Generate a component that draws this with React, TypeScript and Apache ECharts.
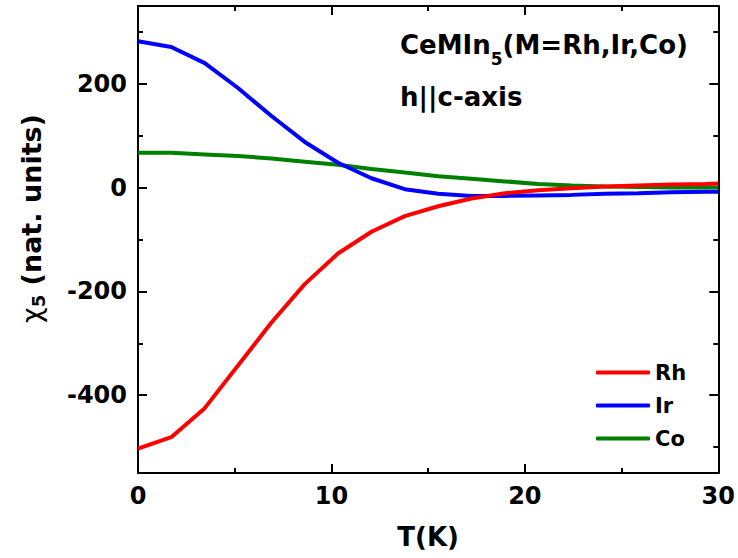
import React, { useEffect, useRef } from "react";
import * as echarts from "echarts";

// temperature grid (K)
const temps = [0, 1.72, 3.45, 5.17, 6.9, 8.62, 10.34, 12.07, 13.79, 15.52, 17.24, 18.97, 20.69, 22.41, 24.14, 25.86, 27.59, 29.31, 30];
// chi_5 for each compound
const rhValues = [-503, -481, -425, -343, -260, -186, -127, -85, -55, -36, -21, -11, -5, -1, 2, 4, 6, 7, 8];
const irValues = [282, 271, 240, 192, 138, 88, 48, 18, -3, -12, -16, -16, -15, -14, -12, -11, -9, -8, -8];
const coValues = [67, 67, 64, 61, 56, 50, 44, 36, 29, 22, 17, 12, 7, 4, 2, 1, 0, 0, 0];

const seriesNames = ["Rh", "Ir", "Co"];
const seriesColors = ["#ff0000", "#0000ff", "#008000"];

const yMajor = [-400, -200, 0, 200];
const yMinor = [-500, -300, -100, 100, 300];

const FONT = "DejaVu Sans";

export default function App() {
  const ref = useRef<HTMLDivElement>(null);

  useEffect(() => {
    if (!ref.current) return;
    const chart = echarts.init(ref.current, undefined, { renderer: "svg" });
    const pair = (vals: number[]) => temps.map((t, i) => [t, vals[i]]);
    const line = { color: "#000", width: 2 };
    const labelStyle = { fontFamily: FONT, fontWeight: "bold" as const, fontSize: 24, color: "#000" };

    const yBase = (position: "left" | "right", major: boolean, withLabels: boolean, extra: any = {}) => ({
      type: "value",
      position,
      min: -550,
      max: 350,
      axisLine: { show: major, lineStyle: line },
      axisTick: { show: true, inside: true, length: major ? 9 : 5, lineStyle: line, customValues: major ? yMajor : yMinor },
      axisLabel: withLabels
        ? { show: true, customValues: yMajor, margin: 11, ...labelStyle }
        : { show: false },
      splitLine: { show: false },
      ...extra,
    });

    const xBase = (position: "bottom" | "top", withLabels: boolean, extra: any = {}) => ({
      type: "value",
      position,
      min: 0,
      max: 30,
      interval: 10,
      axisLine: { show: true, onZero: false, lineStyle: line },
      axisTick: { show: true, inside: true, length: 9, lineStyle: line },
      minorTick: { show: true, splitNumber: 2, length: 5, lineStyle: line },
      axisLabel: withLabels ? { show: true, margin: 11, ...labelStyle } : { show: false },
      splitLine: { show: false },
      ...extra,
    });

    chart.setOption({
      animation: false,
      backgroundColor: "#fff",
      grid: { left: 138, right: 15, top: 6, bottom: 85 },
      xAxis: [
        xBase("bottom", true, {
          name: "T(K)",
          nameLocation: "middle",
          nameGap: 51,
          nameTextStyle: { fontFamily: FONT, fontWeight: "bold", fontSize: 26, color: "#000" },
        }),
        xBase("top", false),
      ],
      yAxis: [
        yBase("left", true, true, {
          name: "{c|χ}{s|5}{a| (nat. units)}",
          nameLocation: "middle",
          nameRotate: 90,
          nameGap: 88,
          nameTextStyle: {
            color: "#000",
            padding: [0, 0, 0, 42],
            rich: {
              c: { fontFamily: FONT, fontSize: 27, fontWeight: "normal", color: "#000", lineHeight: 38 },
              s: { fontFamily: FONT, fontSize: 18, fontWeight: "bold", color: "#000", padding: [14, 0, 0, 0] },
              a: { fontFamily: FONT, fontSize: 27, fontWeight: "bold", color: "#000", lineHeight: 38 },
            },
          },
        }),
        yBase("left", false, false),
        yBase("right", true, false),
        yBase("right", false, false),
      ],
      legend: {
        orient: "vertical",
        left: 591,
        top: 357,
        itemWidth: 54,
        itemHeight: 4,
        itemGap: 12,
        icon: "roundRect",
        textStyle: { fontFamily: FONT, fontWeight: "bold", fontSize: 21, color: "#000", lineHeight: 21 },
        data: seriesNames,
      },
      series: [rhValues, irValues, coValues].map((vals, i) => ({
        name: seriesNames[i],
        type: "line",
        xAxisIndex: 0,
        yAxisIndex: 0,
        data: pair(vals),
        showSymbol: false,
        symbol: "none",
        color: seriesColors[i],
        lineStyle: { color: seriesColors[i], width: 4 },
        z: 3 - i,
      })),
      graphic: [
        {
          type: "text",
          x: 400,
          y: 45,
          style: {
            text: "{a|CeMIn}{s|5}{a|(M=Rh,Ir,Co)}",
            verticalAlign: "middle",
            fill: "#000",
            rich: {
              a: { fontFamily: FONT, fontSize: 26, fontWeight: "bold", fill: "#000", lineHeight: 50 },
              s: { fontFamily: FONT, fontSize: 17, fontWeight: "bold", fill: "#000", padding: [28, 0, 0, 0] },
            },
          },
        },
        {
          type: "text",
          x: 400,
          y: 97,
          style: {
            text: "h||c-axis",
            verticalAlign: "middle",
            fill: "#000",
            fontFamily: FONT,
            fontSize: 26,
            fontWeight: "bold",
          },
        },
      ],
    });
    return () => chart.dispose();
  }, []);

  return (
    <div
      ref={ref}
      style={{ position: "absolute", left: 0, top: 0, width: 738, height: 558 }}
    />
  );
}
